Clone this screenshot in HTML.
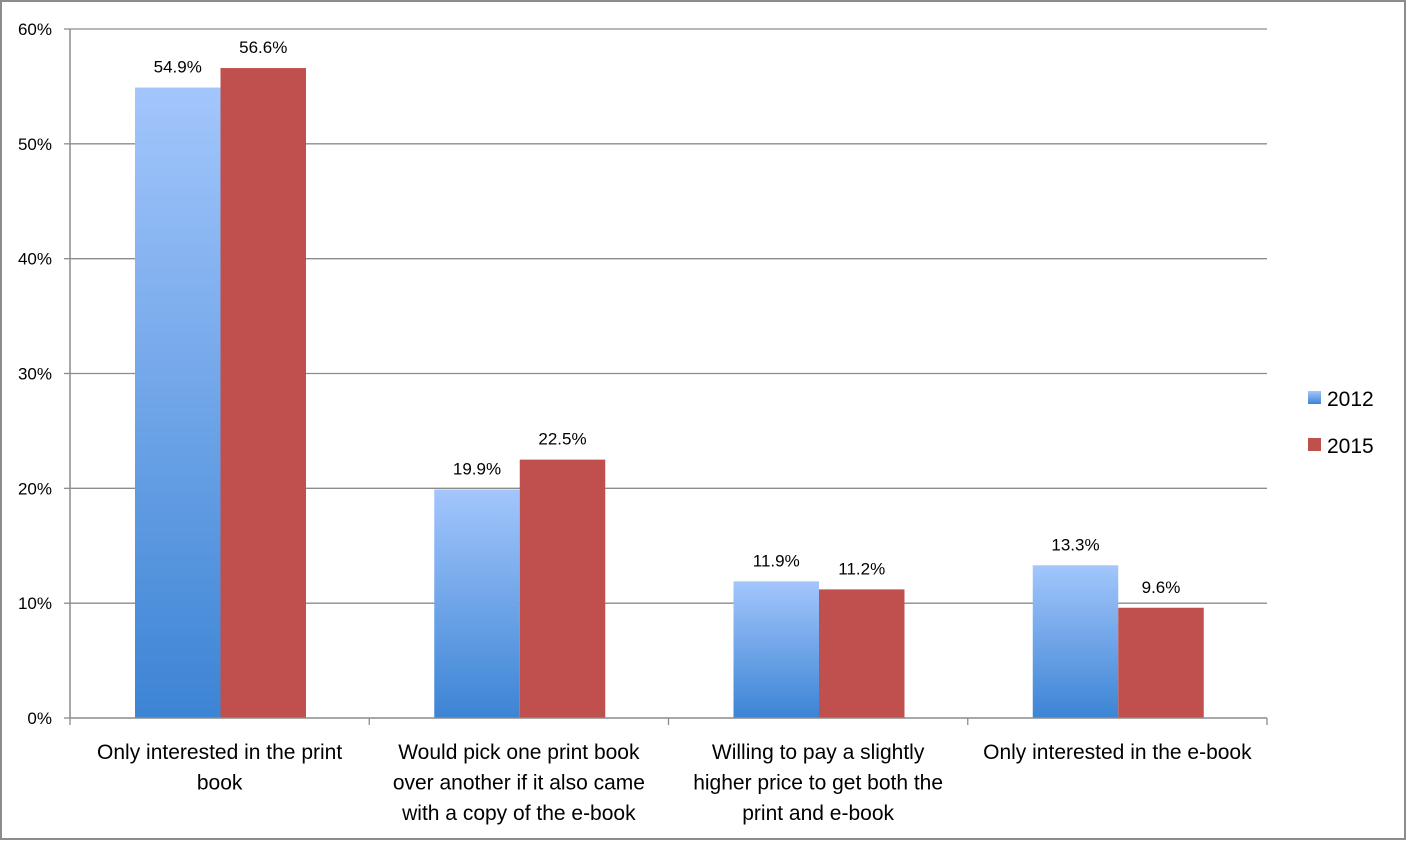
<!DOCTYPE html>
<html><head><meta charset="utf-8"><style>
html,body{margin:0;padding:0;background:#fff}
svg{display:block;font-family:"Liberation Sans",sans-serif}
</style></head><body>
<svg width="1406" height="841" viewBox="0 0 1406 841">
<defs>
<linearGradient id="gb" x1="0" y1="0" x2="0" y2="1">
<stop offset="0" stop-color="#a3c6fc"/><stop offset="1" stop-color="#3c84d4"/>
</linearGradient>
</defs>
<rect x="1" y="1" width="1404" height="838" fill="#fff" stroke="#8c8c8c" stroke-width="2"/>
<g id="grid"></g>
<g id="bars"></g>
<g id="axes"></g>
<g>
<rect x="1308" y="391" width="13" height="13" fill="url(#gb)"/>
<text x="1327" y="406" font-size="21" fill="#000">2012</text>
<rect x="1308" y="438" width="13" height="13" fill="#c0504d"/>
<text x="1327" y="453" font-size="21" fill="#000">2015</text>
</g>
</svg>
<script>
const categories=[["Only interested in the print","book"],["Would pick one print book","over another if it also came","with a copy of the e-book"],["Willing to pay a slightly","higher price to get both the","print and e-book"],["Only interested in the e-book"]];
const series2012=[54.9,19.9,11.9,13.3];
const series2015=[56.6,22.5,11.2,9.6];
const yTicks=[0,10,20,30,40,50,60];
const yTickLabels=["0%","10%","20%","30%","40%","50%","60%"];
const NS="http://www.w3.org/2000/svg";
const X0=70,X1=1267,Y0=718,Y1=29,YMAX=60;
const catW=(X1-X0)/categories.length;
function y(v){return Y0-(v/YMAX)*(Y0-Y1);}
function mk(tag,attrs,parent){const e=document.createElementNS(NS,tag);for(const k in attrs)e.setAttribute(k,attrs[k]);parent.appendChild(e);return e;}
const grid=document.getElementById('grid'),bars=document.getElementById('bars'),axes=document.getElementById('axes');
yTicks.forEach((t,i)=>{
  if(t>0){const l=mk('line',{x1:X0,x2:X1,y1:y(t),y2:y(t),stroke:'#8c8c8c','stroke-width':1.3},grid);
  
  }
  const tk=mk('line',{x1:X0-6,x2:X0,y1:y(t),y2:y(t),stroke:'#8c8c8c','stroke-width':1.3},axes);
  
  
  const tx=mk('text',{x:X0-18,y:y(t)+6,'text-anchor':'end','font-size':17,fill:'#000'},axes);
  tx.textContent=yTickLabels[i];
  
  
});
const bw=85.5,off=65;
categories.forEach((c,i)=>{
  const gx=X0+i*catW+off;
  [[series2012,'url(#gb)',gx,'bar-2012'],[series2015,'#c0504d',gx+bw,'bar-2015']].forEach(([s,f,bx,nm])=>{
    const r=mk('rect',{x:bx,y:y(s[i]),width:bw,height:Y0-y(s[i]),fill:f},bars);
    
    
    const t=mk('text',{x:bx+bw/2,y:y(s[i])-15,'text-anchor':'middle','font-size':17,fill:'#000'},bars);
    t.textContent=s[i].toFixed(1)+'%';
    
    
  });
  const cx=X0+(i+0.5)*catW;
  c.forEach((ln,j)=>{
    const t=mk('text',{x:cx,y:759+j*30.5,'text-anchor':'middle','font-size':21,fill:'#000'},axes);
    t.textContent=ln;
    
    
  });
});
for(let i=0;i<=categories.length;i++){
  const x=X0+i*catW;
  const tk=mk('line',{x1:x,x2:x,y1:Y0,y2:Y0+7,stroke:'#8c8c8c','stroke-width':1.3},axes);
  
  
}
const ya=mk('line',{x1:X0,x2:X0,y1:Y1,y2:Y0,stroke:'#8c8c8c','stroke-width':1.5},axes);


const xa=mk('line',{x1:X0,x2:X1,y1:Y0,y2:Y0,stroke:'#8c8c8c','stroke-width':1.5},axes);


</script>
</body></html>
